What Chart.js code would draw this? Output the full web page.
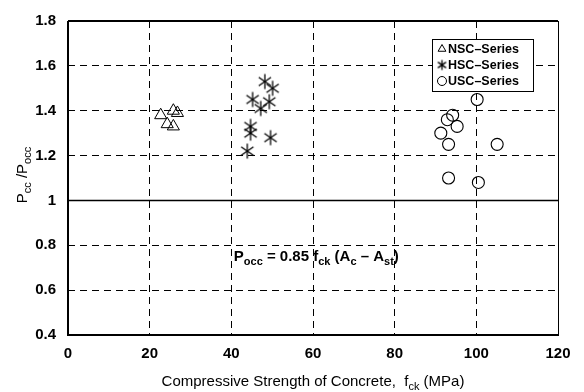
<!DOCTYPE html>
<html>
<head>
<meta charset="utf-8">
<script src="https://cdn.jsdelivr.net/npm/chart.js@4"></script>
<style>
  html, body { margin: 0; padding: 0; background: #fff; }
  #wrap { width: 584px; height: 392px; }
</style>
</head>
<body>
<div id="wrap"><canvas id="chart" width="584" height="392"></canvas></div>
<script>
// --- Dados ---
const nscX = [22.7, 25.8, 26.8, 24.3, 25.8];
const nscY = [1.38, 1.40, 1.39, 1.34, 1.33];

const hscX = [48.2, 50.1, 45.2, 47.2, 49.3, 44.7, 44.7, 49.6, 43.9];
const hscY = [1.53, 1.50, 1.45, 1.41, 1.44, 1.33, 1.30, 1.28, 1.22];

const uscX = [100.2, 94.2, 92.9, 95.3, 91.3, 93.2, 105.1, 93.2, 100.5];
const uscY = [1.45, 1.38, 1.36, 1.33, 1.30, 1.25, 1.25, 1.10, 1.08];

const xTicks = [0, 20, 40, 60, 80, 100, 120];
const yTicks = [0.4, 0.6, 0.8, 1, 1.2, 1.4, 1.6, 1.8];

const seriesNames = ['NSC\u2013Series', 'HSC\u2013Series', 'USC\u2013Series'];

const FONT = "'Liberation Sans', Arial, sans-serif";

// asterisco de 6 braços (como no original)
function makeAsterisk(r) {
    const c = document.createElement('canvas');
    const s = Math.ceil(r * 2 + 3);
    c.width = s; c.height = s;
    const g = c.getContext('2d');
    const m = s / 2;
    g.strokeStyle = '#000';
    g.lineWidth = 1.3;
    [90, 35, 145].forEach(a => {
        const rad = a * Math.PI / 180;
        g.beginPath();
        g.moveTo(m - r * Math.cos(rad), m - r * Math.sin(rad));
        g.lineTo(m + r * Math.cos(rad), m + r * Math.sin(rad));
        g.stroke();
    });
    return c;
}
const asteriskBig = makeAsterisk(7.5);
const asteriskSmall = makeAsterisk(5);

const toPoints = (xs, ys) => xs.map((x, i) => ({ x: x, y: ys[i] }));

// texto com subscritos
function richText(ctx, parts, x, y, size, weight, align) {
    const big = `${weight} ${size}px ${FONT}`;
    const small = `${weight} ${Math.round(size * 0.72)}px ${FONT}`;
    let total = 0;
    parts.forEach(p => { ctx.font = p.sub ? small : big; total += ctx.measureText(p.t).width; });
    let cx = align === 'center' ? x - total / 2 : x;
    ctx.textAlign = 'left';
    ctx.textBaseline = 'alphabetic';
    parts.forEach(p => {
        ctx.font = p.sub ? small : big;
        ctx.fillText(p.t, cx, p.sub ? y + size * 0.25 : y);
        cx += ctx.measureText(p.t).width;
    });
}

const extrasPlugin = {
    id: 'extras',
    beforeDatasetsDraw(chart) {
        const { ctx, chartArea: a, scales: { y } } = chart;
        ctx.save();
        ctx.strokeStyle = '#000';
        // linha sólida em 1.0
        ctx.lineWidth = 1.3;
        ctx.beginPath();
        const y1 = Math.round(y.getPixelForValue(1)) + 0.5;
        ctx.moveTo(a.left, y1); ctx.lineTo(a.right, y1);
        ctx.stroke();
        // moldura
        ctx.lineWidth = 1;
        ctx.strokeRect(a.left + 0.5, a.top + 0.5, a.right - a.left, a.bottom - a.top);
        ctx.lineWidth = 2;
        ctx.beginPath();
        ctx.moveTo(a.left, a.top); ctx.lineTo(a.left, a.bottom); ctx.lineTo(a.right, a.bottom);
        ctx.moveTo(a.left, a.top); ctx.lineTo(a.right, a.top);
        ctx.stroke();
        ctx.restore();
    },
    afterDraw(chart) {
        const { ctx, chartArea: a, scales: { x, y } } = chart;
        ctx.save();
        ctx.fillStyle = '#000';

        // títulos dos eixos
        richText(ctx, [{ t: 'Compressive Strength of Concrete,  f' }, { t: 'ck', sub: true }, { t: ' (MPa)' }],
            (a.left + a.right) / 2, 386, 15, 'normal', 'center');
        ctx.save();
        ctx.translate(27, (a.top + a.bottom) / 2 - 3);
        ctx.rotate(-Math.PI / 2);
        richText(ctx, [{ t: 'P' }, { t: 'cc', sub: true }, { t: ' /P' }, { t: 'occ', sub: true }], 0, 0, 15, 'normal', 'center');
        ctx.restore();

        // anotação
        richText(ctx, [{ t: 'P' }, { t: 'occ', sub: true }, { t: ' = 0.85 f' }, { t: 'ck', sub: true },
            { t: ' (A' }, { t: 'c', sub: true }, { t: ' \u2013 A' }, { t: 'st', sub: true }, { t: ')' }],
            x.getPixelForValue(40.6), y.getPixelForValue(0.73), 15, 'bold', 'left');

        // legenda
        const bx = a.right - 126, by = a.top + 18, bw = 101, bh = 52;
        ctx.fillStyle = '#fff';
        ctx.fillRect(bx, by, bw, bh);
        ctx.strokeStyle = '#000';
        ctx.lineWidth = 1;
        ctx.strokeRect(bx + 0.5, by + 0.5, bw, bh);
        const styles = ['triangle', asteriskSmall, 'circle'];
        ctx.font = `bold 12.5px ${FONT}`;
        ctx.textBaseline = 'middle';
        ctx.textAlign = 'left';
        seriesNames.forEach((name, i) => {
            const ly = by + 10 + i * 16;
            ctx.fillStyle = 'rgba(0,0,0,0)';
            ctx.strokeStyle = '#000';
            ctx.lineWidth = 1;
            Chart.helpers.drawPoint(ctx, { pointStyle: styles[i], radius: 4.5, rotation: 0, borderWidth: 1 },
                bx + 10, ly);
            ctx.fillStyle = '#000';
            ctx.fillText(name, bx + 16, ly + 0.5);
        });
        ctx.restore();
    }
};

new Chart(document.getElementById('chart'), {
    type: 'scatter',
    data: {
        datasets: [
            { label: seriesNames[0], data: toPoints(nscX, nscY), pointStyle: 'triangle', radius: 7,
              borderColor: '#000', backgroundColor: 'rgba(0,0,0,0)', borderWidth: 1 },
            { label: seriesNames[1], data: toPoints(hscX, hscY), pointStyle: asteriskBig, radius: 7,
              borderColor: '#000', backgroundColor: 'rgba(0,0,0,0)', borderWidth: 1 },
            { label: seriesNames[2], data: toPoints(uscX, uscY), pointStyle: 'circle', radius: 6,
              borderColor: '#000', backgroundColor: 'rgba(0,0,0,0)', borderWidth: 1.1 }
        ]
    },
    options: {
        responsive: false,
        animation: false,
        devicePixelRatio: 1,
        layout: { padding: { top: 15, right: 26, left: 0, bottom: 0 } },
        plugins: { legend: { display: false }, tooltip: { enabled: false } },
        scales: {
            x: {
                type: 'linear', min: 0, max: 120,
                afterBuildTicks: s => { s.ticks = xTicks.map(v => ({ value: v })); },
                afterFit: s => { s.height = 57; },
                grid: { color: '#000', lineWidth: 1, drawTicks: false },
                border: { display: false, dash: [7, 5] },
                ticks: { color: '#000', padding: 10, maxRotation: 0, font: { family: FONT, size: 15, weight: 'bold' } }
            },
            y: {
                type: 'linear', min: 0.4, max: 1.8,
                afterBuildTicks: s => { s.ticks = yTicks.map(v => ({ value: v })); },
                afterFit: s => { s.width = 68; },
                grid: { color: '#000', lineWidth: 1, drawTicks: false },
                border: { display: false, dash: [7, 5] },
                ticks: { color: '#000', padding: 12, font: { family: FONT, size: 15, weight: 'bold' },
                         callback: v => String(+v.toFixed(1)) }
            }
        }
    },
    plugins: [extrasPlugin]
});
</script>
</body>
</html>
